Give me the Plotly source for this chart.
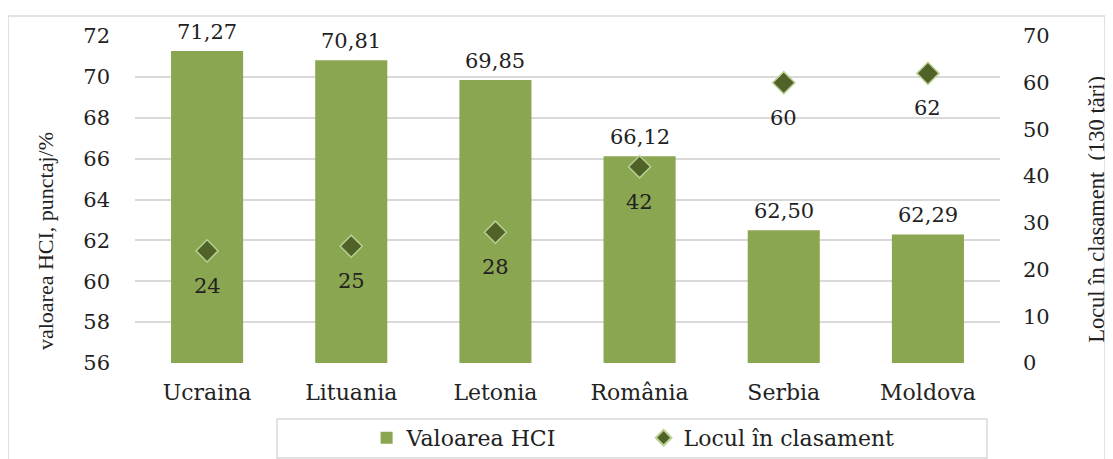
import plotly.graph_objects as go

countries = ["Ucraina", "Lituania", "Letonia", "România", "Serbia", "Moldova"]
hci_values = [71.27, 70.81, 69.85, 66.12, 62.50, 62.29]
ranks = [24, 25, 28, 42, 60, 62]
left_ticks = [56, 58, 60, 62, 64, 66, 68, 70, 72]
right_ticks = [0, 10, 20, 30, 40, 50, 60, 70]

BAR = "#8ba650"
DIA = "#4f6228"
GRID = "#d9d9d9"
SERIF = "DejaVu Serif"
TIMES = "Liberation Serif"
FS = 21

fig = go.Figure()
fig.add_trace(go.Bar(
    x=countries, y=hci_values, name="Valoarea HCI",
    marker=dict(color=BAR, line=dict(width=0)), width=0.5,
))
fig.add_trace(go.Scatter(
    x=countries, y=ranks, name="Locul în clasament", yaxis="y2",
    mode="markers",
    marker=dict(symbol="diamond", size=17, color=DIA,
                line=dict(color="#b9cf93", width=1.5)),
))

annotations = []
for c, v in zip(countries, hci_values):
    annotations.append(dict(x=c, y=v, xref="x", yref="y", text=f"{v:.2f}".replace(".", ","),
                            showarrow=False, yanchor="middle", yshift=19,
                            font=dict(family=SERIF, size=FS, color="#222")))
for c, r in zip(countries, ranks):
    annotations.append(dict(x=c, y=r, xref="x", yref="y2", text=str(r),
                            showarrow=False, yanchor="middle", yshift=-35,
                            font=dict(family=SERIF, size=FS, color="#222")))
annotations.append(dict(x=-0.104, y=0.373, xref="paper", yref="paper",
                        xanchor="center", yanchor="middle",
                        text="valoarea HCI, punctaj/%", textangle=-90, showarrow=False,
                        font=dict(family=TIMES, size=22, color="#222")))
annotations.append(dict(x=1.112, y=0.471, xref="paper", yref="paper",
                        xanchor="center", yanchor="middle",
                        text="Locul în clasament  (130 ţări)", textangle=-90, showarrow=False,
                        font=dict(family=TIMES, size=22.5, color="#222")))

fig.update_layout(
    width=1105, height=451,
    margin=dict(l=127, r=113, t=28, b=96, autoexpand=False),
    paper_bgcolor="white", plot_bgcolor="white",
    showlegend=True,
    legend=dict(orientation="h", x=0.588, y=-0.229, xanchor="center", yanchor="middle",
                font=dict(family=SERIF, size=22, color="#222"),
                entrywidth=232, itemwidth=30, itemsizing="constant",
                bgcolor="rgba(0,0,0,0)"),
    xaxis=dict(showgrid=False, showline=False, ticks="", automargin=False,
               tickfont=dict(family=SERIF, size=22, color="#222"),
               ticklabelstandoff=14),
    yaxis=dict(range=[56, 72], tickvals=left_ticks, showgrid=True, gridcolor=GRID, gridwidth=1.5,
               zeroline=False, showline=False, ticks="", automargin=False,
               tickfont=dict(family=SERIF, size=FS, color="#222"),
               ticklabelstandoff=24),
    yaxis2=dict(range=[0, 70], tickvals=right_ticks, overlaying="y", side="right",
                showgrid=False, zeroline=False, showline=False, ticks="", automargin=False,
                tickfont=dict(family=SERIF, size=FS, color="#222"),
                ticklabelstandoff=22),
    annotations=annotations,
    shapes=[
        dict(type="rect", xref="paper", yref="paper", x0=-0.1468, x1=1.1214, y0=-0.32, y1=1.0612,
             line=dict(color=GRID, width=1.5), layer="below"),
        dict(type="rect", xref="paper", yref="paper", x0=0.1642, x1=0.985, y0=-0.2905, y1=-0.1713,
             line=dict(color=GRID, width=1.5), layer="below"),
    ],
)

fig.write_html("out.html")
